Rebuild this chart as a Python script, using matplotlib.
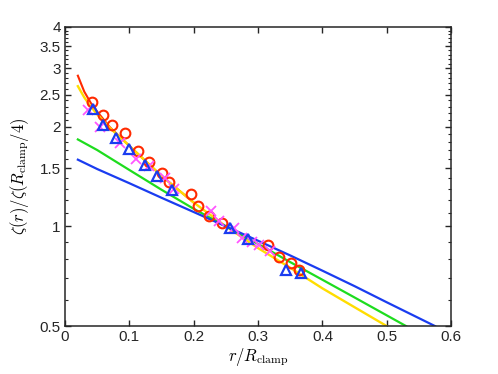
import matplotlib
matplotlib.use("Agg")
import matplotlib.pyplot as plt
import numpy as np
from matplotlib.ticker import FixedLocator, NullFormatter

plt.rcParams["font.family"] = ["Liberation Sans", "DejaVu Sans"]
plt.rcParams["mathtext.fontset"] = "cm"

# model curves
red_x = [0.02, 0.03, 0.04, 0.05, 0.07, 0.1, 0.15, 0.2]
red_y = [2.85, 2.55, 2.36, 2.22, 1.99, 1.75, 1.42, 1.18]
yel_x = [0.02, 0.03, 0.04, 0.05, 0.07, 0.1, 0.15, 0.2, 0.25, 0.3, 0.35, 0.4, 0.45, 0.5]
yel_y = [2.65, 2.45, 2.3, 2.18, 1.98, 1.75, 1.42, 1.18, 1.0, 0.86, 0.75, 0.65, 0.57, 0.5]
grn_x = [0.02, 0.05, 0.1, 0.15, 0.2, 0.25, 0.3, 0.35, 0.4, 0.45, 0.53]
grn_y = [1.83, 1.70, 1.48, 1.29, 1.13, 1.0, 0.885, 0.78, 0.69, 0.61, 0.5]
blu_x = [0.02, 0.05, 0.1, 0.15, 0.2, 0.25, 0.3, 0.35, 0.4, 0.45, 0.5, 0.575]
blu_y = [1.59, 1.49, 1.35, 1.22, 1.105, 1.0, 0.905, 0.817, 0.735, 0.66, 0.59, 0.5]

# data points
circ_x = [0.0425, 0.0587, 0.0737, 0.094, 0.114, 0.131, 0.151, 0.162, 0.195, 0.206,
          0.224, 0.244, 0.315, 0.333, 0.351, 0.364]
circ_y = [2.37, 2.17, 2.02, 1.91, 1.69, 1.56, 1.45, 1.36, 1.25, 1.15,
          1.078, 1.027, 0.881, 0.808, 0.773, 0.740]
cross_x = [0.035, 0.055, 0.085, 0.11, 0.13, 0.155, 0.17, 0.227, 0.24, 0.262, 0.275, 0.29, 0.301, 0.319]
cross_y = [2.25, 2.0, 1.78, 1.6, 1.52, 1.40, 1.3, 1.11, 1.04, 0.99, 0.925, 0.90, 0.88, 0.84]
tri_x = [0.044, 0.0597, 0.079, 0.100, 0.125, 0.143, 0.166, 0.256, 0.284, 0.343, 0.367]
tri_y = [2.26, 2.02, 1.85, 1.71, 1.53, 1.42, 1.29, 0.986, 0.917, 0.74, 0.722]

fig = plt.figure(figsize=(4.98, 3.74), dpi=100)
ax = fig.add_axes([0.1305, 0.128, 0.7755, 0.8])

ax.plot(red_x, red_y, color="#ff2a00", lw=1.5)
ax.plot(yel_x, yel_y, color="#ffdd00", lw=1.7)
ax.plot(grn_x, grn_y, color="#1edc1e", lw=1.6)
ax.plot(blu_x, blu_y, color="#1a3cf0", lw=1.6)

ax.plot(circ_x, circ_y, "o", ms=7, mfc="none", mec="#ff2a00", mew=1.5)
ax.plot(cross_x, cross_y, "x", ms=7, color="#ff55ff", mew=1.3)
ax.plot(tri_x, tri_y, "^", ms=7.5, mfc="none", mec="#1a3cf0", mew=1.6)

ax.set_yscale("log")
ax.set_xlim(0, 0.6)
ax.set_ylim(0.5, 4)
ax.set_xticks([0, 0.1, 0.2, 0.3, 0.4, 0.5, 0.6])
ax.set_xticklabels(["0", "0.1", "0.2", "0.3", "0.4", "0.5", "0.6"])
major = [0.5, 1, 1.5, 2, 2.5, 3, 3.5, 4]
ax.yaxis.set_major_locator(FixedLocator(major))
ax.set_yticklabels(["0.5", "1", "1.5", "2", "2.5", "3", "3.5", "4"])
minor = [round(v, 1) for v in np.arange(0.5, 4.01, 0.1) if round(v, 1) not in major]
ax.yaxis.set_minor_locator(FixedLocator(minor))
ax.yaxis.set_minor_formatter(NullFormatter())

ax.tick_params(which="both", direction="in", top=True, right=True,
               labelsize=11, color="#262626", labelcolor="#262626", pad=3)
ax.tick_params(which="major", length=4, width=1)
ax.tick_params(which="minor", length=2.5, width=0.8)
for s in ax.spines.values():
    s.set_linewidth(1.1)
    s.set_color("#262626")

ax.set_xlabel(r"$r/R_{\rm clamp}$", fontsize=12, labelpad=1)
ax.set_ylabel(r"$\zeta(r)/\zeta(R_{\rm clamp}/4)$", fontsize=12, labelpad=6)

fig.savefig("out.png", dpi=100, facecolor="white")
